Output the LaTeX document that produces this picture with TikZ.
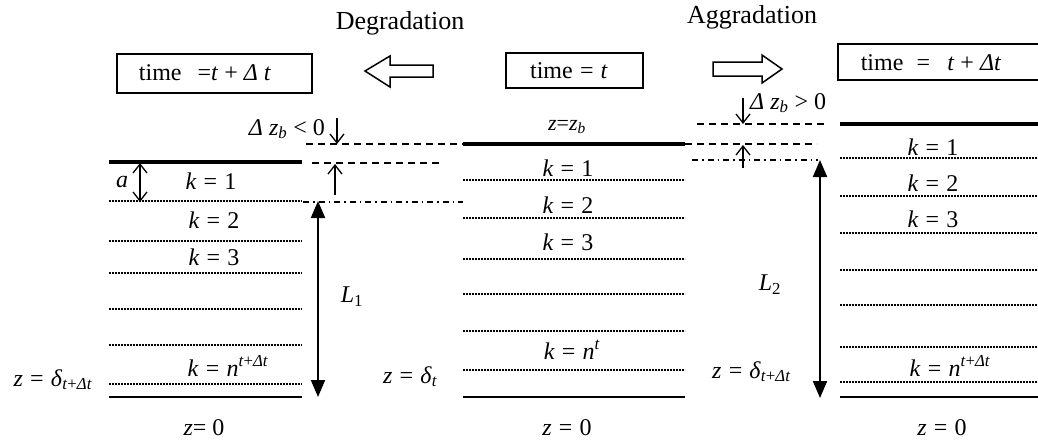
\documentclass[tikz,border=0pt]{standalone}
\usepackage{fontspec}
\setmainfont{Liberation Serif}
\usetikzlibrary{arrows.meta}
\newcommand\myeq{\hspace{.3em}=\hspace{.3em}}
\newcommand\myi[1]{\textit{#1}}
\begin{document}
\begin{tikzpicture}[x=1pt,y=-1pt,
  thickline/.style={line width=4pt},
  dotline/.style={line width=2.2pt, dash pattern=on 1.8pt off 1.2pt},
  dashline/.style={line width=1.2pt, dash pattern=on 7pt off 5pt},
  dashdotline/.style={line width=1.2pt, dash pattern=on 6pt off 4pt on 1.5pt off 4pt},
  baseline/.style={line width=2pt},
  lbl/.style={font=\fontsize{24}{27}\selectfont, inner sep=0pt},
  smalllbl/.style={font=\fontsize{22}{25}\selectfont, inner sep=0pt},
  biglbl/.style={font=\fontsize{26}{30}\selectfont, inner sep=0pt},
  openarrow/.style={line width=1.3pt, -{Straight Barb[length=9pt,width=14pt]}},
  opendouble/.style={line width=1.3pt, {Straight Barb[length=9pt,width=14pt]}-{Straight Barb[length=9pt,width=14pt]}},
  fillarrow/.style={line width=2pt, {Triangle[length=17pt,width=14pt]}-{Triangle[length=17pt,width=14pt]}},
  blockarrow/.style={draw, line width=1.5pt, fill=white, line join=miter},
  timebox/.style={draw, line width=1.5pt, inner sep=0pt}]
\useasboundingbox (0,0) rectangle (1038,442);

% ---------- titles ----------
\node[biglbl] (deg) at (400,23) {Degradation};
\node[biglbl] (agg) at (752,17) {Aggradation};

% ---------- time boxes ----------
\node[timebox, minimum width=195pt, minimum height=39pt] (boxL) at (214.5,73.5) {};
\node[lbl] (txtL) at (205,73) {time \ \,=\myi{t} + \myi{Δ t}};
\node[timebox, minimum width=137pt, minimum height=35pt] (boxM) at (574.5,70.5) {};
\node[lbl] (txtM) at (569,71) {time\myeq\myi{t}};
\draw[line width=1.5pt] (1040,44) -- (838,44) -- (838,80) -- (1040,80);
\node[lbl] (txtR) at (931,63) {time \myeq\, \myi{t} + \myi{Δt}};

% ---------- block arrows ----------
\draw[blockarrow] (433,65) -- (390,65) -- (390,56) -- (365,71) -- (390,87) -- (390,77) -- (433,77) -- cycle;
\draw[blockarrow] (713,62) -- (762,62) -- (762,55) -- (782,69) -- (762,83) -- (762,76) -- (713,76) -- cycle;

% ---------- left column (t + dt, degradation) ----------
\draw[thickline] (109,162) -- (302,162);
\foreach \yy in {201,241,273,309,345,384} \draw[dotline] (109,\yy) -- (302,\yy);
\draw[baseline] (109,397) -- (302,397);
\node[lbl] (aL) at (122,182) {\myi{a}};
\coordinate (aT) at (140,163);
\coordinate (aB) at (140,202);
\draw[opendouble] (aT) -- (aB);
\node[lbl] (k1L) at (211,181) {\myi{k}\myeq 1};
\node[lbl] (k2L) at (214,220) {\myi{k}\myeq 2};
\node[lbl] (k3L) at (214,257) {\myi{k}\myeq 3};
\node[lbl, anchor=base] (knL) at (228,376) {\myi{k}\myeq\myi{n}\textsuperscript{\myi{t}+\myi{Δt}}};
\node[lbl, anchor=base] (dL) at (53,386) {\myi{z}\myeq\myi{δ}\textsubscript{\myi{t}+\myi{Δt}}};
\node[lbl] (z0L) at (204,428) {\myi{z}= 0};

% dashed reference lines (degradation)
\draw[dashline] (306,144) -- (463,144);
\draw[dashline] (312,163) -- (443,163);
\draw[dashdotline] (303,202) -- (463,202);
\node[lbl, anchor=east] (dzL) at (325,129) {\myi{Δ z}\textsubscript{\myi{b}} < 0};
\coordinate (dzLa) at (337,118);
\coordinate (dzLb) at (337,144);
\draw[openarrow] (dzLa) -- (dzLb);
\coordinate (upLa) at (335,195);
\coordinate (upLb) at (335,164);
\draw[openarrow] (upLa) -- (upLb);
\coordinate (L1t) at (318,201);
\coordinate (L1b) at (318,397);
\draw[fillarrow] (L1t) -- (L1b);
\node[lbl] (L1) at (352,297) {\myi{L}\textsubscript{1}};

% ---------- middle column (t) ----------
\draw[thickline] (463,144) -- (685,144);
\node[smalllbl] (zb) at (567,127) {\myi{z}=\myi{z}\textsubscript{\myi{b}}};
\foreach \yy in {180,218,259,294,331,370} \draw[dotline] (463,\yy) -- (685,\yy);
\draw[baseline] (463,397) -- (685,397);
\node[lbl] (k1M) at (568,168) {\myi{k}\myeq 1};
\node[lbl] (k2M) at (568,205) {\myi{k}\myeq 2};
\node[lbl] (k3M) at (568,242) {\myi{k}\myeq 3};
\node[lbl, anchor=base] (knM) at (572,359) {\myi{k}\myeq\myi{n}\textsuperscript{\myi{t}}};
\node[lbl, anchor=base west] (dM) at (383,383) {\myi{z}\myeq\myi{δ}\textsubscript{\myi{t}}};
\node[lbl] (z0M) at (567,428) {\myi{z}\myeq 0};

% dashed reference lines (aggradation)
\draw[dashline] (697,124) -- (828,124);
\draw[dashline] (685,144) -- (817,144);
\draw[dashdotline] (692,160) -- (818,160);
\node[lbl, anchor=west] (dzR) at (750,103) {\myi{Δ z}\textsubscript{\myi{b}} > 0};
\coordinate (dzRa) at (743,98);
\coordinate (dzRb) at (743,124);
\draw[openarrow] (dzRa) -- (dzRb);
\coordinate (upRa) at (743,168);
\coordinate (upRb) at (743,145);
\draw[openarrow] (upRa) -- (upRb);
\coordinate (L2t) at (820,160);
\coordinate (L2b) at (820,398);
\draw[fillarrow] (L2t) -- (L2b);
\node[lbl] (L2) at (770,285) {\myi{L}\textsubscript{2}};

% ---------- right column (t + dt, aggradation) ----------
\draw[thickline] (840,124) -- (1040,124);
\foreach \yy in {158,196,233,270,305,347,382} \draw[dotline] (840,\yy) -- (1040,\yy);
\draw[baseline] (840,397) -- (1040,397);
\node[lbl] (k1R) at (933,147) {\myi{k}\myeq 1};
\node[lbl] (k2R) at (933,183) {\myi{k}\myeq 2};
\node[lbl] (k3R) at (933,219) {\myi{k}\myeq 3};
\node[lbl, anchor=base] (knR) at (950,376) {\myi{k}\myeq\myi{n}\textsuperscript{\myi{t}+\myi{Δt}}};
\node[lbl, anchor=base west] (dR) at (712,378) {\myi{z}\myeq\myi{δ}\textsubscript{\myi{t}+\myi{Δt}}};
\node[lbl] (z0R) at (942,428) {\myi{z}\myeq 0};
\end{tikzpicture}
\end{document}
